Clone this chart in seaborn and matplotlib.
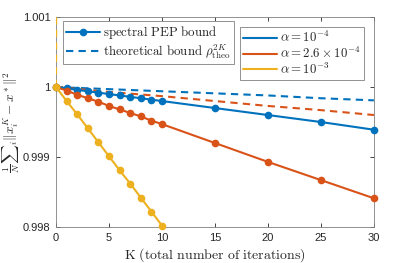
import numpy as np
import pandas as pd
import matplotlib
matplotlib.use("Agg")
import matplotlib.pyplot as plt
from matplotlib.lines import Line2D
import seaborn as sns

# iterations with markers
K = [0, 1, 2, 3, 4, 5, 6, 7, 8, 9, 10, 15, 20, 25, 30]
pep_a1 = [1.0, 0.99998, 0.99996, 0.99994, 0.99992, 0.99990, 0.99988, 0.99986,
          0.99984, 0.99982, 0.99980, 0.99970, 0.99960, 0.99950, 0.99939]
pep_a2 = [1.0, 0.99995, 0.99989, 0.99984, 0.99979, 0.99973, 0.99968, 0.99963,
          0.99958, 0.99952, 0.99947, 0.99920, 0.99893, 0.99867, 0.99841]
K_short = [0, 1, 2, 3, 4, 5, 6, 7, 8, 9, 10]
pep_a3 = [1.0, 0.99980, 0.99961, 0.99941, 0.99921, 0.99901, 0.99881, 0.99862,
          0.99842, 0.99822, 0.99802]

# theoretical bounds
K_theo = [0, 5, 10, 15, 20, 25, 30]
theo_a1 = [1.0, 0.99997, 0.99994, 0.99991, 0.99988, 0.99984, 0.99981]
theo_a2 = [1.0, 0.99993, 0.99987, 0.99980, 0.99973, 0.99967, 0.99960]
K_theo3 = [0, 1]
theo_a3 = [1.0, 1.07]

colors = ["#0072BD", "#D95319", "#EDB120"]
alpha_labels = [r"$\alpha = 10^{-4}$", r"$\alpha = 2.6\times 10^{-4}$", r"$\alpha = 10^{-3}$"]

sns.set_style("ticks")
plt.rcParams["mathtext.fontset"] = "cm"
plt.rcParams["font.family"] = ["Liberation Sans", "DejaVu Sans"]

fig = plt.figure(figsize=(4.15, 2.63), dpi=100)
ax = fig.add_axes([0.135, 0.137, 0.766, 0.798])

pep = [(K, pep_a1), (K, pep_a2), (K_short, pep_a3)]
theo = [(K_theo, theo_a1), (K_theo, theo_a2), (K_theo3, theo_a3)]

for (kx, ty), c in zip(theo, colors):
    df = pd.DataFrame({"K": kx, "v": ty})
    sns.lineplot(data=df, x="K", y="v", ax=ax, color=c, lw=1.5,
                 linestyle=(0, (3.5, 2.5)), legend=False, zorder=3)

for (kx, py), c in zip(pep, colors):
    df = pd.DataFrame({"K": kx, "v": py})
    sns.lineplot(data=df, x="K", y="v", ax=ax, color=c, lw=1.5, marker="o",
                 markersize=5.5, markeredgewidth=0, legend=False, clip_on=False,
                 zorder=4)

ax.set_xlim(0, 30)
ax.set_ylim(0.998, 1.001)
ax.set_xticks([0, 5, 10, 15, 20, 25, 30])
ax.set_yticks([0.998, 0.999, 1.0, 1.001])
ax.set_yticklabels(["0.998", "0.999", "1", "1.001"])
ax.tick_params(direction="in", length=3, width=0.6, labelsize=8,
               top=True, right=True, colors="#262626", pad=4)
for s in ax.spines.values():
    s.set_linewidth(0.6)
    s.set_color("#808080")

ax.set_xlabel(r"$\mathrm{K\ (total\ number\ of\ iterations)}$", fontsize=10, labelpad=3)
ax.set_ylabel("")
fig.text(0.028, 0.536, r"$\frac{1}{N}{\sum}_i \|x_i^K - x^*\|^2$", fontsize=9.5,
         rotation=90, ha="center", va="center")

leg_kw = dict(loc="upper left", fontsize=9.3, frameon=True, fancybox=False,
              edgecolor="#808080", framealpha=1, handlelength=2.6,
              handletextpad=0.25, borderpad=0.25, labelspacing=0.05,
              borderaxespad=0)

h1 = [Line2D([], [], color=colors[0], lw=1.5, marker="o", markersize=5.5, markeredgewidth=0),
      Line2D([], [], color=colors[0], lw=1.5, linestyle=(0, (3.5, 2.5)))]
leg1 = ax.legend(h1, [r"$\mathrm{spectral\ PEP\ bound}$",
                      r"$\mathrm{theoretical\ bound}\ \rho_{\mathrm{theo}}^{2K}$"],
                 bbox_to_anchor=(0.022, 0.982), **leg_kw)
leg1.get_frame().set_linewidth(0.6)
ax.add_artist(leg1)

h2 = [Line2D([], [], color=c, lw=1.5) for c in colors]
leg2 = ax.legend(h2, alpha_labels, bbox_to_anchor=(0.579, 0.954), **leg_kw)
leg2.get_frame().set_linewidth(0.6)

fig.savefig("out.png", dpi=100)
